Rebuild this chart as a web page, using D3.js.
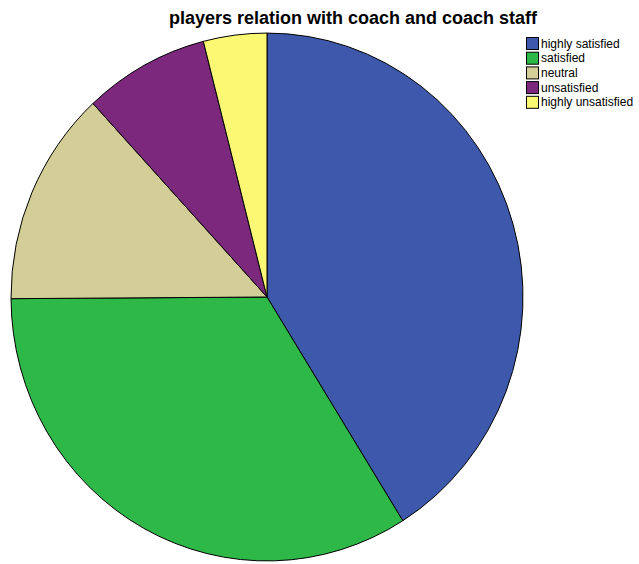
<!DOCTYPE html>
<html>
<head>
<meta charset="utf-8">
<script src="https://cdn.jsdelivr.net/npm/d3@7"></script>
<style>
  html, body { margin: 0; padding: 0; background: #fff; }
  svg { display: block; }
</style>
</head>
<body>
<svg id="chart" width="639" height="564"></svg>
<script>
// Share of responses (%)
const categories = ["highly satisfied", "satisfied", "neutral", "unsatisfied", "highly unsatisfied"];
const shares = [41.1, 33.8, 13.2, 7.9, 4.0];
const colors = ["#3E58AC", "#2EB848", "#D3CE97", "#7C287D", "#FBF873"];
const title = "players relation with coach and coach staff";

const svg = d3.select("#chart");
const font = "'Liberation Sans', Arial, sans-serif";

svg.append("text")
  .attr("x", 353).attr("y", 24)
  .attr("text-anchor", "middle")
  .attr("font-family", font)
  .attr("font-size", 18)
  .attr("font-weight", "bold")
  .attr("fill", "#000")
  .text(title);

const data = categories.map((c, i) => ({ name: c, value: shares[i], color: colors[i] }));

const pie = d3.pie().value(d => d.value).sort(null);
const radius = 256;
const arc = d3.arc().innerRadius(0).outerRadius(radius);

const g = svg.append("g")
  .attr("transform", "translate(267,297) scale(1,1.031)");

g.selectAll("path")
  .data(pie(data))
  .join("path")
  .attr("d", arc)
  .attr("fill", d => d.data.color)
  .attr("stroke", "#000")
  .attr("stroke-width", 1)
  .attr("vector-effect", "non-scaling-stroke");

// Legend
const legend = svg.append("g").attr("transform", "translate(526,37)");
const rows = legend.selectAll("g")
  .data(data)
  .join("g")
  .attr("transform", (d, i) => `translate(0,${i * 14.7})`);

rows.append("rect")
  .attr("x", 0.5).attr("y", 0.5)
  .attr("width", 12).attr("height", 12)
  .attr("fill", d => d.color)
  .attr("stroke", "#000")
  .attr("stroke-width", 1);

rows.append("text")
  .attr("x", 15).attr("y", 10.5)
  .attr("font-family", font)
  .attr("font-size", 12)
  .attr("fill", "#000")
  .text(d => d.name);
</script>
</body>
</html>
